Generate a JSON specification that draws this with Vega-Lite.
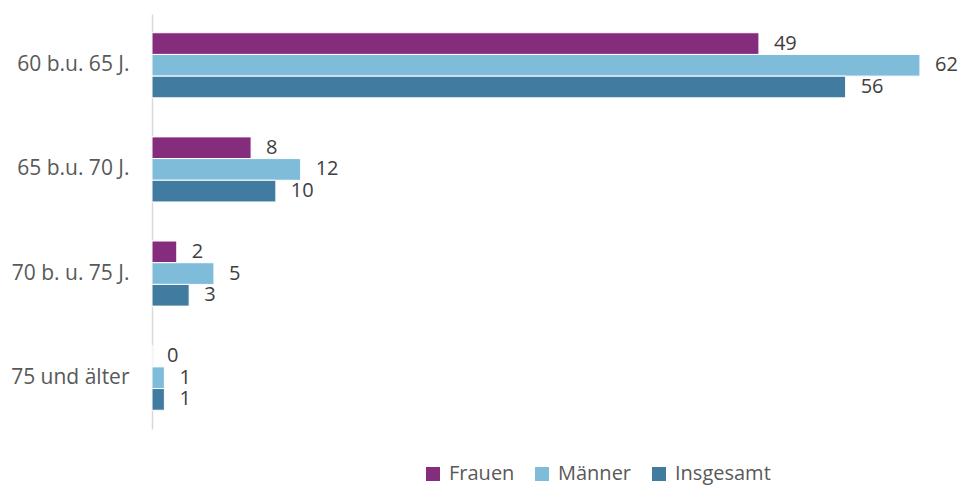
{
  "$schema": "https://vega.github.io/schema/vega-lite/v6.json",
  "autosize": {"type": "none"},
  "padding": {"left": 152, "top": 14, "right": 19, "bottom": 56},
  "width": 790,
  "height": 415,
  "background": "white",
  "config": {
    "view": {"stroke": null},
    "font": "Open Sans",
    "text": {"font": "Open Sans"}
  },
  "data": {
    "values": [
      {"Alter": "60 b.u. 65 J.", "Gruppe": "Frauen", "Wert": 49},
      {"Alter": "60 b.u. 65 J.", "Gruppe": "Männer", "Wert": 62},
      {"Alter": "60 b.u. 65 J.", "Gruppe": "Insgesamt", "Wert": 56},
      {"Alter": "65 b.u. 70 J.", "Gruppe": "Frauen", "Wert": 8},
      {"Alter": "65 b.u. 70 J.", "Gruppe": "Männer", "Wert": 12},
      {"Alter": "65 b.u. 70 J.", "Gruppe": "Insgesamt", "Wert": 10},
      {"Alter": "70 b. u. 75 J.", "Gruppe": "Frauen", "Wert": 2},
      {"Alter": "70 b. u. 75 J.", "Gruppe": "Männer", "Wert": 5},
      {"Alter": "70 b. u. 75 J.", "Gruppe": "Insgesamt", "Wert": 3},
      {"Alter": "75 und älter", "Gruppe": "Frauen", "Wert": 0},
      {"Alter": "75 und älter", "Gruppe": "Männer", "Wert": 1},
      {"Alter": "75 und älter", "Gruppe": "Insgesamt", "Wert": 1}
    ]
  },
  "encoding": {
    "y": {
      "field": "Alter",
      "type": "nominal",
      "sort": null,
      "title": null,
      "scale": {"paddingInner": 0.375, "paddingOuter": 0.18},
      "axis": {
        "ticks": false,
        "domainColor": "#d9d9d9",
        "domainWidth": 1.5,
        "labelFontSize": 21,
        "labelColor": "#595959",
        "labelPadding": 23,
        "labelFont": "Open Sans"
      }
    },
    "yOffset": {
      "field": "Gruppe",
      "type": "nominal",
      "sort": ["Frauen", "Männer", "Insgesamt"]
    },
    "x": {
      "field": "Wert",
      "type": "quantitative",
      "scale": {"domain": [0, 63.78], "nice": false},
      "axis": null
    }
  },
  "layer": [
    {
      "mark": {"type": "bar", "stroke": "white", "strokeWidth": 1},
      "encoding": {
        "color": {
          "field": "Gruppe",
          "type": "nominal",
          "sort": ["Frauen", "Männer", "Insgesamt"],
          "scale": {
            "domain": ["Frauen", "Männer", "Insgesamt"],
            "range": ["#862C7D", "#7FBCDA", "#417CA0"]
          },
          "legend": {
            "title": null,
            "orient": "none",
            "direction": "horizontal",
            "legendX": 271,
            "legendY": 450,
            "symbolType": "square",
            "symbolSize": 196,
            "symbolStrokeWidth": 0,
            "labelFontSize": 20,
            "labelColor": "#595959",
            "labelFont": "Open Sans",
            "labelOffset": 6,
            "columnPadding": 17
          }
        }
      }
    },
    {
      "mark": {"type": "text", "align": "left", "baseline": "middle", "dx": 15, "fontSize": 20, "color": "#404040"},
      "encoding": {
        "text": {"field": "Wert", "type": "quantitative"}
      }
    }
  ]
}
